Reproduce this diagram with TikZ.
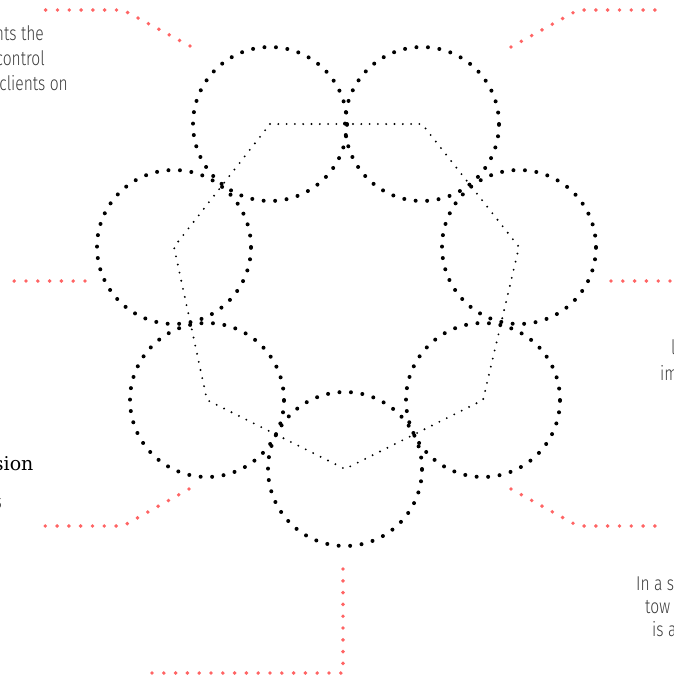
\documentclass[tikz,border=0pt]{standalone}
\usepackage{fontspec}
\newfontfamily\legende{Fira Sans}[UprightFont={* Light}, FakeStretch=0.78]
\newfontfamily\titre{DejaVu Serif}
\definecolor{rouge}{RGB}{255,100,100}
\definecolor{gristexte}{RGB}{60,60,60}

\begin{document}
\begin{tikzpicture}[x=1pt, y=-1pt]
    %reseau en heptagone
\tikzset{
    cercle/.style={circle, minimum size=154pt, inner sep=0pt, draw, line width=4pt, line cap=round, dash pattern=on 0pt off 11.5pt},
    repere/.style={draw=rouge, line width=3.9pt, line cap=round, dash pattern=on 0pt off 11.8pt},
    legende/.style={font=\legende\fontsize{20}{24}\selectfont, text=gristexte, inner sep=0pt}
}
    \useasboundingbox (0,0) rectangle (674,678);
    \clip (0,0) rectangle (674,678);

    \node[cercle](HautGauche) at (270,124) {};
    \node[cercle](HautDroite) at (422,124) {};
    \node[cercle](Droite) at (519,247) {};
    \node[cercle](BasDroite) at (483,400) {};
    \node[cercle](Bas) at (345,469) {};
    \node[cercle](BasGauche) at (207,400) {};
    \node[cercle](Gauche) at (174,247) {};
    \draw[line width=2.1pt, line cap=round, dash pattern=on 0pt off 8.3pt]
     (HautGauche.center) -- (HautDroite.center) -- (Droite.center) -- (BasDroite.center)
     -- (Bas.center) -- (BasGauche.center) -- (Gauche.center) -- cycle;

    \draw[repere] (HautGauche.center)++(-80,-78) -- ++(-67,-36) -- ++(-80,0);
    \draw[repere] (HautDroite.center)++(89,-77) -- ++(67,-37) -- ++(78,0);
    \draw[repere] (Gauche.center)++(-89,34) -- ++(-75,0);
    \draw[repere] (Droite.center)++(92,34) -- ++(62,0);
    \draw[repere] (BasGauche.center)++(-18,89) -- ++(-66,37) -- ++(-80,0);
    \draw[repere] (BasDroite.center)++(28,89) -- ++(67,37) -- ++(78,0);
    \draw[repere] (Bas.center)++(-2,100) -- ++(0,104) -- ++(-192,0);

    \node[legende, anchor=base east](TexteA) at (44,40) {nts the};
    \node[legende, anchor=base east](TexteB) at (45,65) {t control};
    \node[legende, anchor=base east](TexteC) at (68,90) {clients on};
    \node[font=\titre\fontsize{19}{22}\selectfont, anchor=base east](TexteD) at (37,470) {sion};
    \node[legende, anchor=base east](TexteE) at (2,508) {s};
    \node[legende, anchor=base west](TexteF) at (671,354) {l};
    \node[legende, anchor=base west](TexteG) at (660,380) {im};
    \node[legende, anchor=base west](TexteH) at (636,590) {In a s};
    \node[legende, anchor=base west](TexteI) at (645,613) {tow};
    \node[legende, anchor=base west](TexteJ) at (652,636) {is a};
  \end{tikzpicture}
\end{document}
